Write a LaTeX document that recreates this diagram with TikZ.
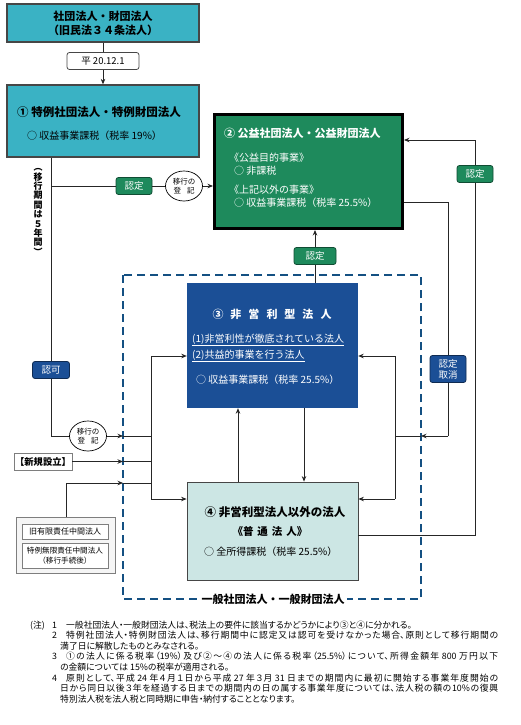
\documentclass[tikz,border=0pt]{standalone}
\usepackage{fontspec}
\setmainfont{Noto Sans CJK JP}
\newfontfamily\notefont[RawFeature=+palt]{Noto Sans CJK JP}
\usetikzlibrary{arrows.meta, positioning, shapes.geometric}
\definecolor{kyucyan}{RGB}{58,178,196}
\definecolor{koekigreen}{RGB}{30,138,92}
\definecolor{hieiriblue}{RGB}{27,79,150}
\definecolor{futsucyan}{RGB}{204,230,228}
\definecolor{frameblue}{RGB}{20,80,130}
\definecolor{edgegray}{RGB}{70,70,70}
\newcommand{\sz}[1]{\fontsize{#1}{#1}\selectfont}
\XeTeXlinebreaklocale "ja"
\XeTeXlinebreakskip=0pt plus 2pt

\begin{document}
\begin{tikzpicture}[x=1pt, y=-1pt, >={Stealth[length=5.5pt,width=4.5pt]},
  conn/.style={draw=black!85, line width=0.8pt},
  cyanbox/.style={draw=edgegray, line width=1.3pt, fill=kyucyan},
  tag/.style={draw, rounded corners=2.5pt, line width=0.8pt, inner sep=1pt,
    minimum height=17pt, font=\sz{9.5}},
  greentag/.style={tag, fill=koekigreen, draw=koekigreen!55!black, text=white},
  bluetag/.style={tag, fill=hieiriblue, draw=hieiriblue!55!black, text=white},
  toki/.style={ellipse, draw, line width=0.7pt, fill=white, inner sep=0pt,
    minimum width=37pt, minimum height=30pt, align=center,
    font=\fontsize{7.5}{9}\selectfont},
  body/.style={anchor=west, inner sep=0pt, font=\sz{10}},
  smallbox/.style={draw=edgegray!70, fill=white, inner sep=0pt, line width=0.7pt}]

  \useasboundingbox (0,0) rectangle (520,725);

  % Old corporations
  \node[cyanbox, minimum width=192pt, minimum height=38pt, align=center,
    font=\fontsize{11}{14}\selectfont\bfseries] (kyu) at (103,23)
    {社団法人・財団法人\\（旧民法３４条法人）};
  \node[tag, fill=white, draw=edgegray, minimum width=72pt] (heisei) at (103,61) {平 20.12.1};

  % Box 1
  \node[cyanbox, minimum width=192pt, minimum height=72pt] (tokurei) at (103,121) {};
  \node[body, font=\sz{11.5}\bfseries] (tokureiT) at (17,112) {① 特例社団法人・特例財団法人};
  \node[body] (tokureiA) at (27,136) {○ 収益事業課税（税率 19\%）};

  % Box 2
  \node[draw=black, line width=3pt, fill=koekigreen, minimum width=188pt,
    minimum height=114pt] (koeki) at (308.5,171.5) {};
  \node[body, text=white, font=\sz{11}\bfseries] (koekiT) at (224,133) {② 公益社団法人・公益財団法人};
  \node[body, text=white] (koekiA) at (229,158) {《公益目的事業》};
  \node[body, text=white] (koekiB) at (234,171) {○ 非課税};
  \node[body, text=white] (koekiC) at (229,190) {《上記以外の事業》};
  \node[body, text=white] (koekiD) at (234,203) {○ 収益事業課税（税率 25.5\%）};

  % Dashed frame
  \draw[frameblue, line width=1.8pt, dash pattern=on 8pt off 5pt] (123,275) rectangle (421,599);
  \node[fill=white, inner sep=2pt, font=\sz{11}\bfseries] (ippan) at (273,599) {一般社団法人・一般財団法人};
  \coordinate (frameW) at (123,275);
  \coordinate (frameE) at (421,275);

  % Box 3
  \node[fill=hieiriblue, minimum width=171pt, minimum height=125pt] (hieiri) at (272.5,345.5) {};
  \node[text=white, inner sep=0pt, font=\sz{11}\bfseries] (hieiriT) at (272,314)
    {③\hspace{7pt}非\hspace{7pt}営\hspace{7pt}利\hspace{7pt}型\hspace{7pt}法\hspace{7pt}人};
  \node[body, text=white] (hieiriA) at (192,340) {\underline{(1)非営利性が徹底されている法人}};
  \node[body, text=white] (hieiriB) at (192,356) {\underline{(2)共益的事業を行う法人}};
  \node[body, text=white] (hieiriC) at (196,380) {○ 収益事業課税（税率 25.5\%）};

  % Box 4
  \node[fill=futsucyan, draw=edgegray, line width=0.8pt, minimum width=171pt,
    minimum height=98pt] (futsu) at (272.5,531) {};
  \node[inner sep=0pt, font=\sz{11.5}\bfseries] (futsuT) at (275,512) {④ 非営利型法人以外の法人};
  \node[inner sep=0pt, font=\sz{10.5}\bfseries] (futsuS) at (270,531)
    {《普\hspace{4pt}通\hspace{4pt}法\hspace{4pt}人》};
  \node[body] (futsuA) at (204,552) {○ 全所得課税（税率 25.5\%）};

  % Labels on the left
  \node[inner sep=0pt, align=center, font=\fontsize{9}{9.4}\selectfont\bfseries] (kikan) at (38,212)
    {︵\\移\\行\\期\\間\\は\\５\\年\\間\\︶};
  \node[greentag, minimum width=36pt] (nintei1) at (134,186) {認定};
  \node[toki] (tomi1) at (184,186) {移行の\\登\hspace{6pt}記};
  \node[bluetag, minimum width=37pt] (ninka) at (51,370) {認可};
  \node[toki] (tomi2) at (88,436) {移行の\\登\hspace{6pt}記};
  \node[smallbox, inner xsep=1pt, minimum height=17pt, font=\sz{9.3}\bfseries] (shinki) at (43,461.5) {【新規設立】};
  \node[smallbox, fill=black!4, minimum width=99pt, minimum height=56pt] (chukan) at (66,545) {};
  \node[smallbox, minimum width=86pt, minimum height=15pt, font=\sz{8}] (kyuyugen) at (65,531.5) {旧有限責任中間法人};
  \node[smallbox, minimum width=86pt, minimum height=25pt, align=center,
    font=\fontsize{7.6}{10}\selectfont] (tokumugen) at (65,555.5) {特例無限責任中間法人\\（移行手続後）};

  % Labels on the right
  \node[greentag, minimum width=42pt] (nintei2) at (315,256) {認定};
  \node[greentag, minimum width=36pt] (nintei3) at (475,174) {認定};
  \node[bluetag, minimum width=36pt, minimum height=27pt, align=center,
    font=\fontsize{9.5}{11}\selectfont] (torikeshi) at (448,369) {認定\\取消};

  % Trunks
  \coordinate (trunkW) at (151,356);
  \coordinate (trunkWb) at (151,499);
  \coordinate (trunkE) at (395,356);
  \coordinate (trunkEb) at (395,499);

  % 1 from the old corporations
  \draw[conn] (kyu) -- (heisei);
  \draw[conn, ->] (heisei) -- (tokurei);

  % 1 to 2
  \coordinate (ltop) at (51,186);
  \coordinate (lbot) at (51,436);
  \draw[conn] (tokurei.south -| ltop) -- (ltop) -- (nintei1);
  \draw[conn] (nintei1) -- (tomi1);
  \draw[conn, ->] (tomi1) -- (koeki.west |- tomi1);

  % 1 to the general corporations
  \draw[conn] (ltop) -- (ninka);
  \draw[conn] (ninka) -- (lbot) -- (tomi2);
  \draw[conn, ->] (tomi2) -- (frameW |- tomi2);
  \draw[conn] (frameW |- tomi2) -- (trunkW |- tomi2);
  \draw[conn, ->] (shinki) -- (frameW |- shinki);
  \draw[conn] (frameW |- shinki) -- (trunkW |- shinki);
  \coordinate (cin) at (66,483);
  \draw[conn] (chukan) -- (cin);
  \draw[conn, ->] (cin) -- (frameW |- cin);
  \draw[conn] (frameW |- cin) -- (trunkW |- cin);
  \draw[conn] (trunkW) -- (trunkWb);
  \draw[conn, ->] (trunkW) -- (hieiri.west |- trunkW);
  \draw[conn, ->] (trunkWb) -- (futsu.west |- trunkWb);

  % 3 and 4
  \draw[conn, ->] ([xshift=-34.5pt]futsu.north) -- ([xshift=-34.5pt]hieiri.south);
  \draw[conn, ->] ([xshift=31.5pt]hieiri.south) -- ([xshift=31.5pt]futsu.north);

  % 3 to 2
  \draw[conn] ([xshift=42.5pt]hieiri.north) -- (nintei2);
  \draw[conn, ->] (nintei2) -- (koeki.south -| nintei2);

  % 4 to 2
  \coordinate (rloopB) at (475,535);
  \coordinate (rloopT) at (475,140);
  \draw[conn] (futsu.east |- rloopB) -- (rloopB) -- (nintei3);
  \draw[conn, ->] (nintei3) -- (rloopT) -- (koeki.east |- rloopT);

  % 2 back (cancelled)
  \coordinate (torT) at (448,202);
  \coordinate (torB) at (448,436);
  \draw[conn] (koeki.east |- torT) -- (torT) -- (torikeshi);
  \draw[conn] (torikeshi) -- (torB);
  \draw[conn, ->] (torB) -- (frameE |- torB);
  \draw[conn] (frameE |- torB) -- (trunkE |- torB);
  \draw[conn] (trunkE) -- (trunkEb);
  \draw[conn, ->] (trunkE) -- (hieiri.east |- trunkE);
  \draw[conn, ->] (trunkEb) -- (futsu.east |- trunkEb);

  % Notes
  \node[anchor=north west, inner sep=0pt, text width=468pt, align=justify,
    font=\notefont\fontsize{8.8}{10.57}\selectfont] (chuki) at (30,620.5) {%
    \noindent\hangindent=30pt\hangafter=1 \makebox[22pt][l]{(注)}\makebox[14pt][l]{1}一般社団法人・一般財団法人は、税法上の要件に該当するかどうかにより③と④に分かれる。\par
    \noindent\hangindent=30pt\hangafter=1 \hspace*{22pt}\makebox[14pt][l]{2}特例社団法人・特例財団法人は、移行期間中に認定又は認可を受けなかった場合、原則として移行期間の\linebreak 満了日に解散したものとみなされる。\par
    \noindent\hangindent=30pt\hangafter=1 \hspace*{22pt}\makebox[14pt][l]{3}①の法人に係る税率（19\%）及び②～④の法人に係る税率（25.5\%）について、所得金額年 800 万円以下\linebreak の金額については 15\%の税率が適用される。\par
    \noindent\hangindent=30pt\hangafter=1 \hspace*{22pt}\makebox[14pt][l]{4}原則として、平成 24 年４月１日から平成 27 年３月 31 日までの期間内に最初に開始する事業年度開始の\linebreak 日から同日以後３年を経過する日までの期間内の日の属する事業年度については、法人税の額の10\%の復興\linebreak 特別法人税を法人税と同時期に申告・納付することとなります。\par};
\end{tikzpicture}
\end{document}
